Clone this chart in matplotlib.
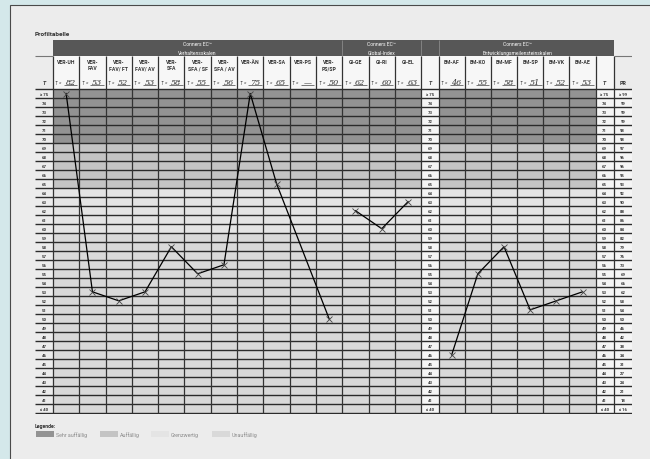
import numpy as np
import matplotlib
matplotlib.use("Agg")
import matplotlib.pyplot as plt
from matplotlib.patches import Rectangle

plt.rcParams['font.family'] = ['Roboto', 'DejaVu Sans']

# ---------------- data ----------------
ver_scales = ["VER-UH", "VER-\nFAV", "VER-\nFAV/ FT", "VER-\nFAV/ AV", "VER-\nSFA",
              "VER-\nSFA / SF", "VER-\nSFA / AV", "VER-ÄN", "VER-SA", "VER-PS", "VER-\nPS/SP"]
ver_values = [82, 53, 52, 53, 58, 55, 56, 75, 65, None, 50]
gi_scales = ["GI-GE", "GI-RI", "GI-EL"]
gi_values = [62, 60, 63]
em_scales = ["EM-AF", "EM-KO", "EM-MF", "EM-SP", "EM-VK", "EM-AE"]
em_values = [46, 55, 58, 51, 52, 53]

t_rows = list(range(75, 39, -1))
t_labels = ["≥ 75"] + [str(t) for t in range(74, 40, -1)] + ["≤ 40"]
pr_labels = ["≥ 99", "99", "99", "99", "98", "98", "97", "96", "96", "95", "93", "92",
             "90", "88", "86", "84", "82", "79", "76", "73", "69", "66", "62", "58",
             "54", "50", "46", "42", "38", "34", "31", "27", "24", "21", "18", "≤ 16"]

band_labels = ["Sehr auffällig", "Auffällig", "Grenzwertig", "Unauffällig"]
band_lower = [70, 65, 60, 40]
band_colors = ["#939393", "#c4c4c4", "#e4e4e4", "#d9d9d9"]

group_titles = ["Conners EC™\nVerhaltensskalen", "Conners EC™\nGlobal-Index",
                "Conners EC™\nEntwicklungsmeilensteinskalen"]

# ---------------- layout ----------------
W, H = 650, 460
def fx(px): return px / W
def fy(py): return 1 - py / H

fig = plt.figure(figsize=(6.5, 4.6), dpi=100, facecolor="#d4e8ea")
fig.patches.append(Rectangle((fx(9.5), -0.02), 1.0, fy(5.5) + 0.02, transform=fig.transFigure,
                             fc="#ececec", ec="#4a4a4a", lw=0.8, zorder=-10))

row_px = (414.5 - 90) / 36
def py2y(py): return 39.5 + (414.5 - py) / row_px
y_top = py2y(41)
y_db = py2y(57)      # bottom of dark bar

# column widths (in column units)
kinds = (["T"] + ["VER"] * len(ver_scales) + ["GI"] * len(gi_scales) + ["T"]
         + ["EM"] * len(em_scales) + ["T", "PR"])
widths = np.array([0.684] + [1.0] * len(ver_scales) + [1.0] * len(gi_scales) + [0.66]
                  + [0.995] * len(em_scales) + [0.684, 0.70])
edges = np.concatenate([[0], np.cumsum(widths)])
centers = (edges[:-1] + edges[1:]) / 2
unit_px = (632 - 35) / edges[-1]

ax = fig.add_axes([fx(35), fy(414.5), fx(632) - fx(35), fy(41) - fy(414.5)], zorder=1)
ax.set_xlim(0, edges[-1])
ax.set_ylim(39.5, y_top)
ax.axis("off")
ax.patch.set_visible(False)

def band_color(t):
    for lo, c in zip(band_lower, band_colors):
        if t >= lo:
            return c
    return band_colors[-1]

row_colors = [band_color(t) for t in t_rows]
ver_idx = [i for i, k in enumerate(kinds) if k == "VER"]
gi_idx = [i for i, k in enumerate(kinds) if k == "GI"]
em_idx = [i for i, k in enumerate(kinds) if k == "EM"]
t_idx = [i for i, k in enumerate(kinds) if k == "T"]
pr_idx = kinds.index("PR")

# body backgrounds
for blk in (ver_idx + gi_idx, em_idx):
    l, r = edges[blk[0]], edges[blk[-1] + 1]
    ax.barh(t_rows, r - l, left=l, height=1, color=row_colors, lw=0, zorder=1)
for i in t_idx[1:] + [pr_idx]:
    ax.barh(57.5, widths[i], left=edges[i], height=36, color="#f5f5f5", lw=0, zorder=1)

# header cells
for i in range(1, pr_idx):
    ax.add_patch(Rectangle((edges[i], 75.5), widths[i], y_db - 75.5, fc="#f7f7f7", lw=0, zorder=1))

# dark bar
ax.add_patch(Rectangle((edges[1], y_db), edges[pr_idx] - edges[1], y_top - y_db,
                       fc="#575757", lw=0, zorder=2))
for e in (edges[gi_idx[0]], edges[t_idx[1]], edges[em_idx[0]]):
    ax.vlines(e, y_db, y_top, color="#8a8a8a", lw=0.6, zorder=3)
for idx, title in zip((ver_idx, gi_idx, em_idx), group_titles):
    cx = (edges[idx[0]] + edges[idx[-1] + 1]) / 2
    ax.text(cx, (y_db + y_top) / 2, title, ha="center", va="center", fontsize=3.6,
            color="white", linespacing=1.9, zorder=4)

# grid lines
ax.hlines(np.arange(39.5, 76, 1), 0, edges[-1], color="#2b2b2b", lw=1.0, zorder=3)
ax.vlines(edges[1:pr_idx + 1], 39.5, y_db, color="#333333", lw=0.9, zorder=3)
ax.hlines(y_db, edges[0], edges[1], color="#777777", lw=0.8, zorder=3)
ax.hlines(y_db, edges[pr_idx], edges[-1], color="#777777", lw=0.8, zorder=3)

# column names and T values
all_names = ver_scales + gi_scales + em_scales
all_vals = ver_values + gi_values + em_values
for i, name, v in zip(ver_idx + gi_idx + em_idx, all_names, all_vals):
    l = edges[i]
    ax.text(centers[i], py2y(59.8), name, ha="center", va="top", fontsize=3.7,
            fontweight="bold", color="#333333", linespacing=1.35, zorder=4)
    ax.text(l + 2.5 / unit_px, py2y(84.6), "T =", ha="left", va="baseline", fontsize=3.4,
            fontstyle="italic", color="#444444", zorder=4)
    ax.hlines(py2y(86.0), l + 11 / unit_px, l + 24.5 / unit_px, color="#444444", lw=0.5, zorder=4)
    ax.text(l + 17.8 / unit_px, py2y(85.0), "—" if v is None else str(v), ha="center",
            va="baseline", fontsize=5.8, fontstyle="italic", family="DejaVu Serif",
            color="#333333", zorder=4)

for i in t_idx:
    ax.text(centers[i], py2y(85.5), "T", ha="center", va="baseline", fontsize=3.8,
            fontstyle="italic", fontweight="bold", color="#333333", zorder=4)
ax.text(centers[pr_idx], py2y(85.5), "PR", ha="center", va="baseline", fontsize=3.8,
        fontweight="bold", color="#333333", zorder=4)

# row labels
for t, lab, pr in zip(t_rows, t_labels, pr_labels):
    for i in t_idx:
        ax.text(centers[i], t, lab, ha="center", va="center", fontsize=3.1,
                fontweight="bold", color="#333333", zorder=4)
    ax.text(centers[pr_idx], t, pr, ha="center", va="center", fontsize=3.1,
            fontweight="bold", color="#333333", zorder=4)

# profile lines
for idx, vals in ((ver_idx, ver_values), (gi_idx, gi_values), (em_idx, em_values)):
    xs = [centers[i] for i, v in zip(idx, vals) if v is not None]
    ys = [min(max(v, 40), 75) for v in vals if v is not None]
    ax.plot(xs, ys, color="black", lw=0.9, zorder=5)
    ax.plot(xs, ys, ls="none", marker="x", ms=4, mew=0.6, color="#444444", zorder=6)

# title and legend
fig.text(fx(35), fy(34.5), "Profiltabelle", ha="left", va="center", fontsize=4.6,
         fontweight="bold", color="#333333")
fig.text(fx(35), fy(426.5), "Legende:", ha="left", va="center", fontsize=3.8,
         fontweight="bold", color="#333333")
for px, lab, c in zip((36, 100, 151, 212), band_labels, band_colors):
    fig.patches.append(Rectangle((fx(px), fy(437.8)), fx(18), fy(432.3) - fy(437.8),
                                 transform=fig.transFigure, fc=c, lw=0))
    fig.text(fx(px + 20), fy(435.2), lab, ha="left", va="center", fontsize=3.8, color="#8a8a8a")

fig.savefig("out.png", dpi=100, facecolor=fig.get_facecolor())
